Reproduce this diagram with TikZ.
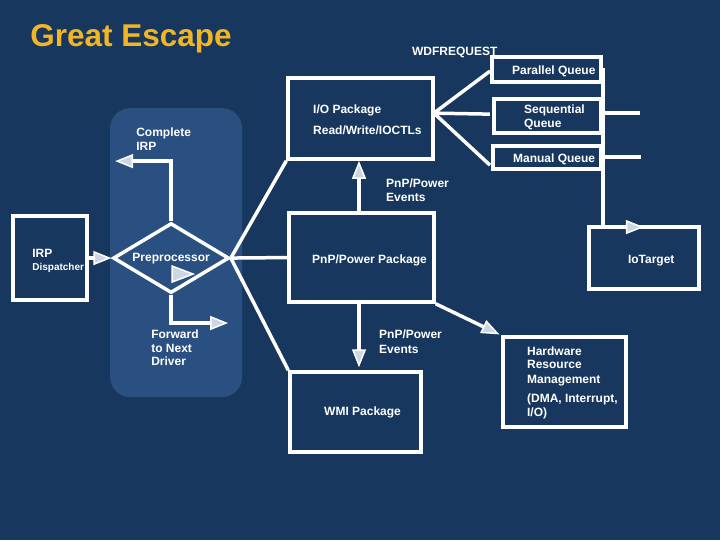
\documentclass[tikz,border=0pt]{standalone}
\usepackage{fontspec}
\setmainfont{Liberation Sans}
\usetikzlibrary{arrows.meta,shapes.geometric}
\definecolor{bg}{RGB}{23,55,94}
\definecolor{panelc}{RGB}{42,80,130}
\definecolor{gold}{RGB}{242,181,35}
\definecolor{tipfill}{RGB}{205,215,228}
\begin{document}
\begin{tikzpicture}[x=1pt,y=-1pt,
  every path/.style={draw=white},
  box/.style={draw=white, line width=3.5pt, inner sep=0pt},
  conn/.style={draw=white, line width=3.5pt},
  arr/.style={conn, -{Triangle[length=18pt,width=14pt,fill=tipfill,line width=1.5pt]}},
  lbl/.style={text=white, font=\bfseries\fontsize{12}{14}\selectfont, inner sep=0pt, anchor=base west},
  small/.style={lbl, font=\bfseries\fontsize{10}{11}\selectfont}]
\useasboundingbox (0,0) rectangle (720,540);
\fill[bg, draw=none] (0,0) rectangle (720,540);
% panel
\node[fill=panelc, draw=none, rounded corners=20pt, minimum width=132pt, minimum height=289pt, inner sep=0pt] (panel) at (176,252.5) {};
% title
\node[anchor=base west, inner sep=0pt, text=gold, font=\bfseries\fontsize{31.5}{31.5}\selectfont] (title) at (30,46) {Great Escape};
% boxes
\node[box, minimum width=74pt, minimum height=84pt] (disp) at (50,258) {};
\node[box, diamond, minimum width=116pt, minimum height=70pt] (pre) at (171,258) {};
\node[box, minimum width=145pt, minimum height=81pt] (io) at (360.5,118.5) {};
\node[box, minimum width=145pt, minimum height=89pt] (pnp) at (361.5,257.5) {};
\node[box, minimum width=131pt, minimum height=80pt] (wmi) at (355.5,412) {};
\node[box, minimum width=123pt, minimum height=90pt] (hw) at (564.5,382) {};
\node[box, minimum width=109pt, minimum height=25pt] (par) at (546.5,69.5) {};
\node[box, minimum width=107pt, minimum height=34pt] (seq) at (547.5,116) {};
\node[box, minimum width=108pt, minimum height=23pt] (man) at (547,157.5) {};
\node[box, minimum width=110pt, minimum height=62pt] (iot) at (644,258) {};
% labels
\node[lbl] (t-irp) at (32,257) {IRP};
\node[small] (t-disp) at (32,270) {Dispatcher};
\node[lbl, anchor=base] (t-pre) at (171,261) {Preprocessor};
\node[lbl] (t-c1) at (136,136) {Complete};
\node[lbl] (t-c2) at (136,150) {IRP};
\node[lbl] (t-f1) at (151,338) {Forward};
\node[lbl] (t-f2) at (151,352) {to Next};
\node[lbl] (t-f3) at (151,366) {Driver};
\node[lbl] (t-io1) at (313,113) {I/O Package};
\node[lbl] (t-io2) at (313,134) {Read/Write/IOCTLs};
\node[lbl] (t-e1) at (386,187) {PnP/Power};
\node[lbl] (t-e2) at (386,201) {Events};
\node[lbl] (t-pnp) at (312,263) {PnP/Power Package};
\node[lbl] (t-e3) at (379,338) {PnP/Power};
\node[lbl] (t-e4) at (379,353) {Events};
\node[lbl] (t-wmi) at (324,416) {WMI Package};
\node[lbl] (t-hw1) at (527,355) {Hardware};
\node[lbl] (t-hw2) at (527,369) {Resource};
\node[lbl] (t-hw3) at (527,384) {Management};
\node[lbl] (t-hw4) at (527,403) {(DMA, Interrupt,};
\node[lbl] (t-hw5) at (527,417) {I/O)};
\node[lbl] (t-wdf) at (412,55) {WDFREQUEST};
\node[lbl] (t-par) at (512,74) {Parallel Queue};
\node[lbl] (t-seq1) at (524,113) {Sequential};
\node[lbl] (t-seq2) at (524,127) {Queue};
\node[lbl] (t-man) at (513,162) {Manual Queue};
\node[lbl] (t-iot) at (628,263) {IoTarget};
% decorative arrow in the diamond
\draw[fill=tipfill, line width=1.5pt] (172,266) -- (193,274) -- (172,282) -- cycle;
% coordinates
\coordinate (cirp) at (115,161);
\coordinate (fwd) at (228,323);
\coordinate (iof) at (434,113);
\coordinate (q1) at (490,71);
\coordinate (q2) at (490,114);
\coordinate (q3) at (490,165);
\coordinate (vtop) at (603,68);
\coordinate (vbot) at (603,227);
\coordinate (iotip) at (644,227);
\coordinate (s1a) at (601,113);
\coordinate (s1b) at (640,113);
\coordinate (s2a) at (601,157);
\coordinate (s2b) at (641,157);
% connectors
\draw[arr] (disp.east) -- (pre.west);
\draw[arr] (pre.north) |- (cirp);
\draw[arr] (pre.south) |- (fwd);
\draw[conn] (pre.east) -- (io.south west);
\draw[conn] (pre.east) -- (pnp.west);
\draw[conn] (pre.east) -- (wmi.north west);
\draw[conn] (iof) -- (q1);
\draw[conn] (iof) -- (q2);
\draw[conn] (iof) -- (q3);
\draw[conn] (vtop) -- (vbot);
\draw[arr] (vbot) -- (iotip);
\draw[conn] (s1a) -- (s1b);
\draw[conn] (s2a) -- (s2b);
\draw[arr] ([xshift=-2.5pt]pnp.north) -- ([xshift=-2.5pt]pnp.north |- io.south);
\draw[arr, shorten >=3pt] ([xshift=-2.5pt]pnp.south) -- ([xshift=-2.5pt]pnp.south |- wmi.north);
\draw[arr, shorten >=2pt] (pnp.south east) -- (hw.north west);
\end{tikzpicture}
\end{document}
